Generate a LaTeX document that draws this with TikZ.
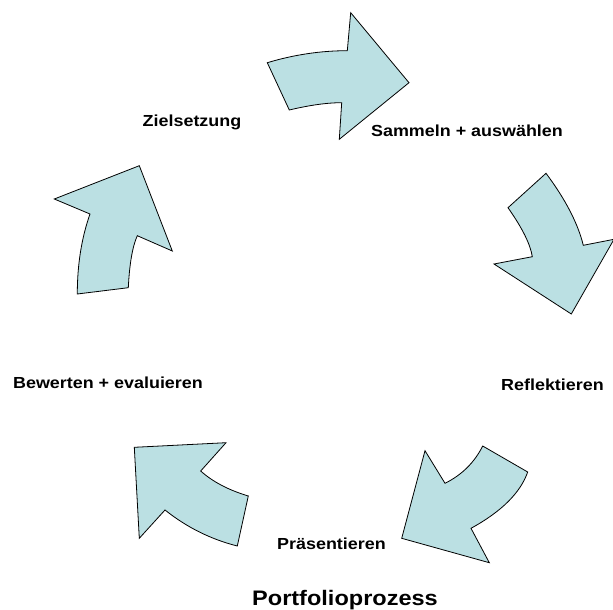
\documentclass[tikz,border=0pt]{standalone}
\usepackage{fontspec}
\setmainfont{Liberation Sans}[FakeStretch=1.12]
\definecolor{arrowfill}{RGB}{187,224,227}
\begin{document}
\begin{tikzpicture}[x=1pt,y=-1pt,
  arrowshape/.style={fill=arrowfill,draw=black,line width=0.8pt,line join=miter},
  lbl/.style={inner sep=0pt,anchor=base,font=\fontsize{16}{19}\selectfont\bfseries},
  ttl/.style={inner sep=0pt,anchor=base west,font=\fontsize{21}{25}\selectfont\bfseries}]
\useasboundingbox (0,0) rectangle (613,610);
% arrow 1 (top)
\draw[arrowshape] (267.3,62.7) .. controls (294,54.7) and (320.6,50.7) .. (347.3,50.7)
  -- (350.7,12.7) -- (409,82.7) -- (339.3,139.3) -- (341.7,102.7)
  .. controls (327.2,102.7) and (309.8,105.1) .. (289.3,110) -- cycle;
% arrow 2 (right)
\draw[arrowshape] (546,173.3) .. controls (565.3,199.1) and (577.8,223.1) .. (583.3,245.3)
  -- (614,239.3) -- (571.3,314) -- (494,264) -- (532.3,256.7)
  .. controls (530.5,244.6) and (522.4,228.2) .. (508,207.7) -- cycle;
% arrow 3 (bottom right)
\draw[arrowshape] (482.7,446) -- (527.7,472) .. controls (520.4,492.8) and (501.5,511.6) .. (471,528.3)
  -- (489.3,562.7) -- (401.7,538.3) -- (425,450.7) -- (445,483.3)
  .. controls (461.9,474.9) and (474.4,462.5) .. cycle;
% arrow 4 (bottom left)
\draw[arrowshape] (226,442.7) -- (134.3,447.3) -- (139.3,538.3) -- (165,510)
  .. controls (186.7,527.3) and (210.8,539.3) .. (237.3,546) -- (248.3,496)
  .. controls (228.4,490) and (212.6,481.7) .. (200.7,471) -- cycle;
% arrow 5 (left)
\draw[arrowshape] (77.3,294) -- (128.3,287.7) .. controls (129.5,263.7) and (132.5,246.4) .. (137.3,235.7)
  -- (172.3,251) -- (139.3,165.7) -- (54.3,199) -- (90,214)
  .. controls (81.5,238.1) and (77.3,264.8) .. cycle;
% labels
\node[lbl] (ziel) at (192,126.5) {Zielsetzung};
\node[lbl] (samm) at (467,136.5) {Sammeln + auswählen};
\node[lbl] (bew) at (108,388.5) {Bewerten + evaluieren};
\node[lbl] (refl) at (552.5,390) {Reflektieren};
\node[lbl] (pras) at (331.5,549) {Präsentieren};
\node[ttl] (title) at (252,605.5) {Portfolioprozess};
\end{tikzpicture}
\end{document}
